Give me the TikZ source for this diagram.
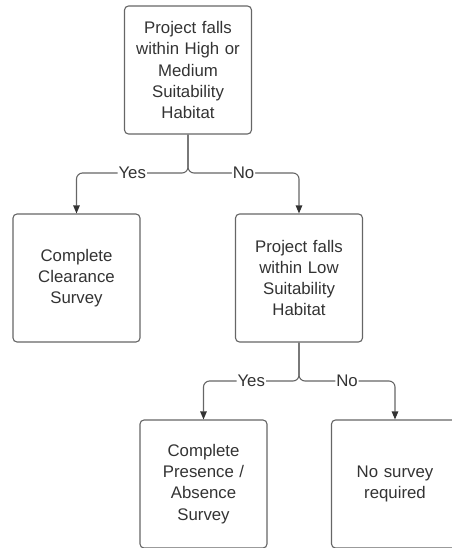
\documentclass[tikz,border=0pt]{standalone}
\usepackage{fontspec}
\setmainfont{Liberation Sans}
\usetikzlibrary{arrows.meta}
\definecolor{linegray}{HTML}{666666}
\definecolor{textgray}{HTML}{333333}
\tikzset{
  box/.style={draw=linegray, line width=1.1pt, rounded corners=4pt,
    minimum width=127pt, minimum height=128pt, text width=120pt,
    align=center, inner sep=0pt, text=textgray,
    font=\fontsize{16.8}{21.3}\selectfont},
  conn/.style={draw=linegray, line width=1.1pt, rounded corners=6pt,
    -{Triangle[length=8pt,width=6.5pt,color=textgray]}},
  lbl/.style={fill=white, inner sep=1pt, text=textgray,
    font=\fontsize{16.8}{19}\selectfont}
}
\begin{document}
\begin{tikzpicture}[x=1pt,y=1pt]
	\useasboundingbox (0,0) rectangle (451,-548);
	% boxes
	\node[box] (high) at (188,-70) {Project falls\\within High or\\Medium\\Suitability\\Habitat};
	\node[box] (clear) at (76.5,-278) {Complete\\Clearance\\Survey};
	\node[box] (low) at (299,-278) {Project falls\\within Low\\Suitability\\Habitat};
	\node[box] (pres) at (203.5,-484) {Complete\\Presence /\\Absence\\Survey};
	\node[box] (none) at (395,-484) {No survey\\required};
	% junctions
	\coordinate (j1) at (188,-173);
	\coordinate (j2) at (299,-381);
	% connectors
	\draw[conn] (high.south) -- (j1) -| node[lbl, pos=0.25] {Yes} (clear.north);
	\draw[conn] (high.south) -- (j1) -| node[lbl, pos=0.25] {No} (low.north);
	\draw[conn] (low.south) -- (j2) -| node[lbl, pos=0.25] {Yes} (pres.north);
	\draw[conn] (low.south) -- (j2) -| node[lbl, pos=0.25] {No} (none.north);
\end{tikzpicture}
\end{document}
